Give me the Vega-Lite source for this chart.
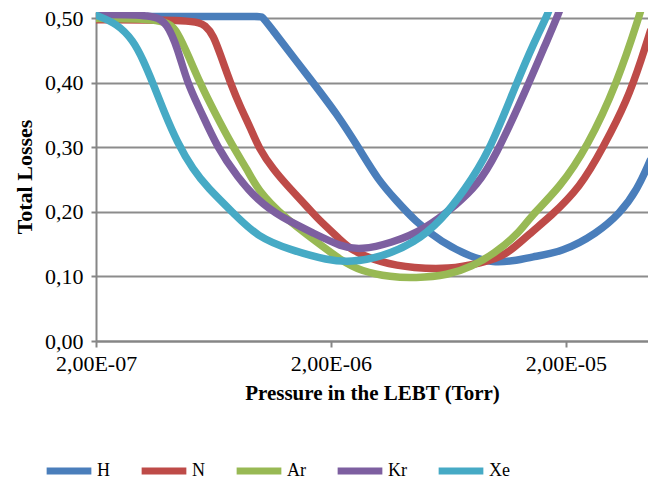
{
  "$schema": "https://vega.github.io/schema/vega-lite/v6.json",
  "width": 552,
  "height": 329,
  "autosize": {"type": "none"},
  "padding": {"left": 96, "top": 12, "right": 0, "bottom": 139},
  "background": "white",
  "config": {"view": {"stroke": null}, "font": "Liberation Serif"},
  "data": {
    "values": [
      {"g": "H", "p": 2.0e-7, "v": 0.503},
      {"g": "H", "p": 9.8e-7, "v": 0.503},
      {"g": "H", "p": 1.02e-6, "v": 0.503},
      {"g": "H", "p": 1.06e-6, "v": 0.495},
      {"g": "H", "p": 1.69e-6, "v": 0.399},
      {"g": "H", "p": 2.10e-6, "v": 0.354},
      {"g": "H", "p": 2.63e-6, "v": 0.299},
      {"g": "H", "p": 3.18e-6, "v": 0.249},
      {"g": "H", "p": 3.79e-6, "v": 0.218},
      {"g": "H", "p": 4.53e-6, "v": 0.187},
      {"g": "H", "p": 5.90e-6, "v": 0.153},
      {"g": "H", "p": 7.93e-6, "v": 0.130},
      {"g": "H", "p": 9.66e-6, "v": 0.121},
      {"g": "H", "p": 1.26e-5, "v": 0.125},
      {"g": "H", "p": 1.40e-5, "v": 0.130},
      {"g": "H", "p": 1.94e-5, "v": 0.138},
      {"g": "H", "p": 2.71e-5, "v": 0.167},
      {"g": "H", "p": 3.40e-5, "v": 0.198},
      {"g": "H", "p": 4.02e-5, "v": 0.234},
      {"g": "H", "p": 4.57e-5, "v": 0.280},

      {"g": "N", "p": 2.0e-7, "v": 0.498},
      {"g": "N", "p": 5.30e-7, "v": 0.498},
      {"g": "N", "p": 5.85e-7, "v": 0.489},
      {"g": "N", "p": 6.32e-7, "v": 0.474},
      {"g": "N", "p": 6.78e-7, "v": 0.443},
      {"g": "N", "p": 7.48e-7, "v": 0.399},
      {"g": "N", "p": 8.25e-7, "v": 0.362},
      {"g": "N", "p": 9.10e-7, "v": 0.330},
      {"g": "N", "p": 9.85e-7, "v": 0.299},
      {"g": "N", "p": 1.141e-6, "v": 0.265},
      {"g": "N", "p": 1.31e-6, "v": 0.240},
      {"g": "N", "p": 1.595e-6, "v": 0.207},
      {"g": "N", "p": 1.76e-6, "v": 0.189},
      {"g": "N", "p": 2.21e-6, "v": 0.156},
      {"g": "N", "p": 2.43e-6, "v": 0.141},
      {"g": "N", "p": 3.27e-6, "v": 0.121},
      {"g": "N", "p": 4.53e-6, "v": 0.113},
      {"g": "N", "p": 6.32e-6, "v": 0.111},
      {"g": "N", "p": 8.75e-6, "v": 0.121},
      {"g": "N", "p": 1.11e-5, "v": 0.132},
      {"g": "N", "p": 1.404e-5, "v": 0.167},
      {"g": "N", "p": 1.708e-5, "v": 0.192},
      {"g": "N", "p": 2.30e-5, "v": 0.238},
      {"g": "N", "p": 2.88e-5, "v": 0.300},
      {"g": "N", "p": 3.65e-5, "v": 0.373},
      {"g": "N", "p": 4.22e-5, "v": 0.440},
      {"g": "N", "p": 4.57e-5, "v": 0.480},

      {"g": "Ar", "p": 2.0e-7, "v": 0.500},
      {"g": "Ar", "p": 3.94e-7, "v": 0.500},
      {"g": "Ar", "p": 4.44e-7, "v": 0.481},
      {"g": "Ar", "p": 5.04e-7, "v": 0.435},
      {"g": "Ar", "p": 5.56e-7, "v": 0.399},
      {"g": "Ar", "p": 6.32e-7, "v": 0.358},
      {"g": "Ar", "p": 7.70e-7, "v": 0.299},
      {"g": "Ar", "p": 8.84e-7, "v": 0.265},
      {"g": "Ar", "p": 9.75e-7, "v": 0.234},
      {"g": "Ar", "p": 1.259e-6, "v": 0.192},
      {"g": "Ar", "p": 1.76e-6, "v": 0.152},
      {"g": "Ar", "p": 2.21e-6, "v": 0.125},
      {"g": "Ar", "p": 2.69e-6, "v": 0.108},
      {"g": "Ar", "p": 3.61e-6, "v": 0.099},
      {"g": "Ar", "p": 4.53e-6, "v": 0.0975},
      {"g": "Ar", "p": 6.32e-6, "v": 0.102},
      {"g": "Ar", "p": 7.93e-6, "v": 0.115},
      {"g": "Ar", "p": 9.95e-6, "v": 0.136},
      {"g": "Ar", "p": 1.26e-5, "v": 0.167},
      {"g": "Ar", "p": 1.404e-5, "v": 0.192},
      {"g": "Ar", "p": 1.886e-5, "v": 0.238},
      {"g": "Ar", "p": 2.46e-5, "v": 0.300},
      {"g": "Ar", "p": 3.30e-5, "v": 0.399},
      {"g": "Ar", "p": 4.14e-5, "v": 0.508},
      {"g": "Ar", "p": 4.3e-5, "v": 0.53},

      {"g": "Kr", "p": 2.0e-7, "v": 0.506},
      {"g": "Kr", "p": 3.57e-7, "v": 0.506},
      {"g": "Kr", "p": 4.02e-7, "v": 0.492},
      {"g": "Kr", "p": 4.44e-7, "v": 0.455},
      {"g": "Kr", "p": 4.90e-7, "v": 0.399},
      {"g": "Kr", "p": 5.56e-7, "v": 0.358},
      {"g": "Kr", "p": 6.58e-7, "v": 0.299},
      {"g": "Kr", "p": 8.01e-7, "v": 0.254},
      {"g": "Kr", "p": 9.75e-7, "v": 0.218},
      {"g": "Kr", "p": 1.223e-6, "v": 0.192},
      {"g": "Kr", "p": 1.69e-6, "v": 0.167},
      {"g": "Kr", "p": 2.21e-6, "v": 0.146},
      {"g": "Kr", "p": 2.69e-6, "v": 0.141},
      {"g": "Kr", "p": 3.61e-6, "v": 0.152},
      {"g": "Kr", "p": 4.99e-6, "v": 0.172},
      {"g": "Kr", "p": 6.98e-6, "v": 0.214},
      {"g": "Kr", "p": 8.33e-6, "v": 0.241},
      {"g": "Kr", "p": 9.95e-6, "v": 0.283},
      {"g": "Kr", "p": 1.363e-5, "v": 0.392},
      {"g": "Kr", "p": 1.627e-5, "v": 0.458},
      {"g": "Kr", "p": 1.886e-5, "v": 0.512},
      {"g": "Kr", "p": 1.95e-5, "v": 0.53},

      {"g": "Xe", "p": 2.0e-7, "v": 0.505},
      {"g": "Xe", "p": 2.46e-7, "v": 0.492},
      {"g": "Xe", "p": 2.88e-7, "v": 0.466},
      {"g": "Xe", "p": 3.18e-7, "v": 0.435},
      {"g": "Xe", "p": 3.50e-7, "v": 0.399},
      {"g": "Xe", "p": 3.87e-7, "v": 0.358},
      {"g": "Xe", "p": 4.44e-7, "v": 0.307},
      {"g": "Xe", "p": 5.19e-7, "v": 0.265},
      {"g": "Xe", "p": 5.96e-7, "v": 0.238},
      {"g": "Xe", "p": 7.70e-7, "v": 0.198},
      {"g": "Xe", "p": 9.75e-7, "v": 0.161},
      {"g": "Xe", "p": 1.349e-6, "v": 0.141},
      {"g": "Xe", "p": 1.942e-6, "v": 0.125},
      {"g": "Xe", "p": 2.43e-6, "v": 0.122},
      {"g": "Xe", "p": 3.27e-6, "v": 0.130},
      {"g": "Xe", "p": 4.53e-6, "v": 0.152},
      {"g": "Xe", "p": 5.90e-6, "v": 0.187},
      {"g": "Xe", "p": 7.40e-6, "v": 0.234},
      {"g": "Xe", "p": 9.38e-6, "v": 0.291},
      {"g": "Xe", "p": 1.211e-5, "v": 0.393},
      {"g": "Xe", "p": 1.474e-5, "v": 0.466},
      {"g": "Xe", "p": 1.692e-5, "v": 0.509},
      {"g": "Xe", "p": 1.75e-5, "v": 0.53}
    ]
  },
  "mark": {
    "type": "line",
    "strokeWidth": 7.5,
    "strokeCap": "round",
    "strokeJoin": "round",
    "interpolate": "basis",
    "clip": true
  },
  "encoding": {
    "x": {
      "field": "p",
      "type": "quantitative",
      "scale": {"type": "log", "domain": [2e-7, 4.47e-5], "nice": false},
      "axis": {
        "values": [2e-7, 2e-6, 2e-5],
        "labelExpr": "datum.value < 1e-6 ? '2,00E-07' : datum.value < 1e-5 ? '2,00E-06' : '2,00E-05'",
        "grid": false,
        "title": "Pressure in the LEBT (Torr)",
        "titleFont": "Liberation Serif",
        "titleFontSize": 21,
        "titleFontWeight": "bold",
        "titleColor": "black",
        "titlePadding": 8,
        "labelFont": "Liberation Serif",
        "labelFontSize": 22,
        "labelColor": "black",
        "labelPadding": 6,
        "labelFlush": false,
        "domainColor": "#868686",
        "domainWidth": 2,
        "tickColor": "#868686",
        "tickWidth": 2,
        "tickSize": 6
      }
    },
    "y": {
      "field": "v",
      "type": "quantitative",
      "scale": {"domain": [0, 0.51], "nice": false},
      "axis": {
        "values": [0, 0.1, 0.2, 0.3, 0.4, 0.5],
        "labelExpr": "replace(format(datum.value, '.2f'), '.', ',')",
        "title": "Total Losses",
        "titleFont": "Liberation Serif",
        "titleFontSize": 22,
        "titleFontWeight": "bold",
        "titleColor": "black",
        "titlePadding": 8,
        "labelFont": "Liberation Serif",
        "labelFontSize": 22,
        "labelColor": "black",
        "labelPadding": 8,
        "domainColor": "#868686",
        "domainWidth": 2,
        "tickColor": "#868686",
        "tickWidth": 2,
        "tickSize": 5,
        "grid": true,
        "gridColor": "#8c8c8c",
        "gridWidth": 2
      }
    },
    "color": {
      "field": "g",
      "type": "nominal",
      "sort": ["H", "N", "Ar", "Kr", "Xe"],
      "scale": {
        "domain": ["H", "N", "Ar", "Kr", "Xe"],
        "range": ["#4A7EBB", "#BE4B48", "#98B954", "#7D5FA0", "#46AAC5"]
      },
      "legend": {
        "title": null,
        "orient": "none",
        "direction": "horizontal",
        "gridAlign": "none",
        "legendX": -53,
        "legendY": 433,
        "symbolType": "stroke",
        "symbolSize": 2000,
        "symbolStrokeWidth": 7,
        "labelFont": "Liberation Serif",
        "labelFontSize": 18,
        "labelColor": "black",
        "labelOffset": 2,
        "columnPadding": 17
      }
    }
  }
}
